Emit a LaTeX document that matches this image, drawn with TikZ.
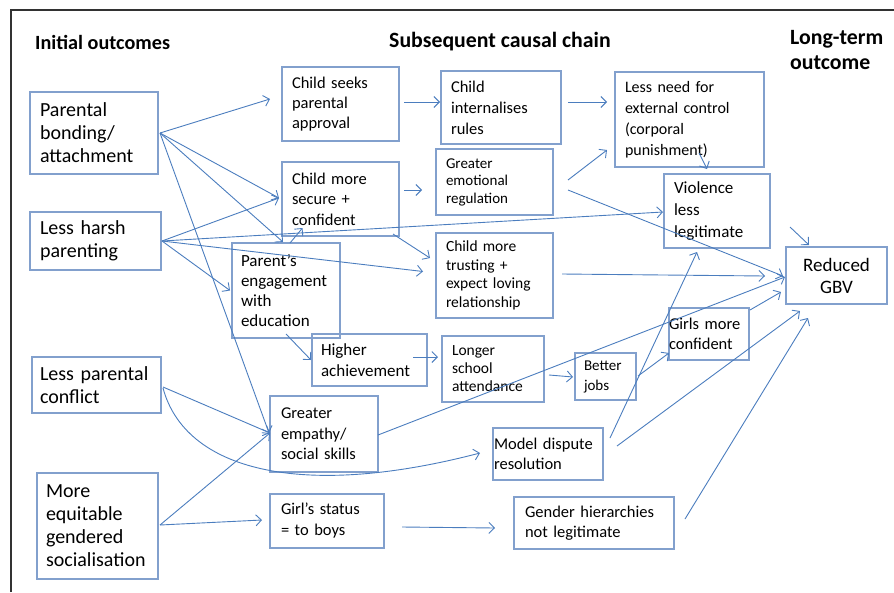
\documentclass[tikz,border=0pt]{standalone}
\usepackage{fontspec}
\setmainfont{Carlito}
\usetikzlibrary{arrows.meta,calc}
\definecolor{boxline}{RGB}{130,160,205}
\definecolor{arr}{RGB}{75,125,190}
\definecolor{framec}{RGB}{50,50,50}
\begin{document}
\begin{tikzpicture}[x=1pt,y=-1pt,
  box/.style={draw=boxline, line width=1.1pt, rectangle, anchor=north west,
    inner ysep=0pt, outer sep=0pt, align=left, text=black},
  con/.style={draw=arr, line width=0.9pt, -{Straight Barb[length=5.5pt,width=11pt]}},
  ttl/.style={font=\fontsize{20.2}{25}\selectfont\bfseries, inner sep=0pt, text=black, align=left},
  frm/.style={draw=framec, line width=1.2pt}
]
\useasboundingbox (0,0) rectangle (894,592);
\draw[frm] (11,592) -- (11,10) -- (894,10);

% titles
\node[ttl, anchor=west] (t1) at (35,42) {Initial outcomes};
\node[ttl, anchor=west, font=\fontsize{21.8}{25}\selectfont\bfseries] (t2) at (389,42) {Subsequent causal chain};
\node[ttl, anchor=west, font=\fontsize{21.8}{25}\selectfont\bfseries] (t3) at (790,50.5) {Long-term\\outcome};

% initial outcomes
\node[box, minimum width=128pt, minimum height=82pt, text width=108pt, inner xsep=10pt, font=\fontsize{20}{23}\selectfont] (pb) at (30,92) {Parental\\bonding/\\attachment};
\node[box, minimum width=131pt, minimum height=58pt, text width=111pt, inner xsep=10pt, font=\fontsize{20}{23}\selectfont] (lh) at (30,212) {Less harsh\\parenting};
\node[box, minimum width=129pt, minimum height=56pt, text width=113pt, inner xsep=8pt, font=\fontsize{20}{23}\selectfont] (lc) at (32,357) {Less parental\\conflict};
\node[box, minimum width=121pt, minimum height=106pt, text width=103pt, inner xsep=9pt, font=\fontsize{20}{23}\selectfont] (me) at (37,473) {More\\equitable\\gendered\\socialisation};

% second column
\node[box, minimum width=117pt, minimum height=74pt, text width=97pt, inner xsep=10pt, font=\fontsize{16.5}{20}\selectfont] (cs) at (282,67) {Child seeks\\parental\\approval};
\node[box, minimum width=117pt, minimum height=74pt, text width=97pt, inner xsep=10pt, font=\fontsize{16.5}{20.5}\selectfont] (cm) at (282,162) {Child more\\secure +\\confident};
\node[box, minimum width=108pt, minimum height=95pt, text width=90pt, inner xsep=9pt, font=\fontsize{17}{20}\selectfont] (pe) at (232,243) {Parent’s\\engagement\\with\\education};
\node[box, minimum width=115pt, minimum height=52pt, text width=97pt, inner xsep=9pt, font=\fontsize{17}{21}\selectfont] (ha) at (312,334) {Higher\\achievement};
\node[box, minimum width=108pt, minimum height=76pt, text width=86pt, inner xsep=11pt, font=\fontsize{16.5}{20.5}\selectfont] (ge) at (270,396) {Greater\\empathy/\\social skills};
\node[box, minimum width=114pt, minimum height=54pt, text width=92pt, inner xsep=11pt, font=\fontsize{16.5}{21}\selectfont] (gs) at (270,494) {Girl’s status\\= to boys};

% third column
\node[box, minimum width=120pt, minimum height=73pt, text width=100pt, inner xsep=10pt, font=\fontsize{16.5}{21}\selectfont] (ci) at (441,71) {Child\\internalises\\rules};
\node[box, minimum width=117pt, minimum height=66pt, text width=97pt, inner xsep=10pt, font=\fontsize{15}{17.5}\selectfont] (er) at (436,149) {Greater\\emotional\\regulation};
\node[box, minimum width=117pt, minimum height=85pt, text width=97pt, inner xsep=10pt, font=\fontsize{15.5}{18.5}\selectfont] (ct) at (436,233) {Child more\\trusting +\\expect loving\\relationship};
\node[box, minimum width=102pt, minimum height=66pt, text width=82pt, inner xsep=10pt, font=\fontsize{15.5}{18}\selectfont] (ls) at (442,336) {Longer\\school\\attendance};
\node[box, minimum width=110pt, minimum height=52pt, text width=108pt, inner xsep=1pt, font=\fontsize{16.5}{20}\selectfont] (md) at (493,428) {Model dispute\\resolution};
\node[box, minimum width=160pt, minimum height=52pt, text width=138pt, inner xsep=11pt, font=\fontsize{16.5}{20}\selectfont] (gh) at (514,497) {Gender hierarchies\\not legitimate};

% fourth column
\node[box, minimum width=149pt, minimum height=95pt, text width=129pt, inner xsep=10pt, font=\fontsize{16}{21}\selectfont] (ln) at (615,72) {Less need for\\external control\\(corporal\\punishment)};
\node[box, minimum width=106pt, minimum height=74pt, text width=86pt, inner xsep=10pt, font=\fontsize{17}{22}\selectfont] (vl) at (664,174) {Violence\\less\\legitimate};
\node[box, minimum width=61pt, minimum height=47pt, text width=43pt, inner xsep=9pt, font=\fontsize{15}{20}\selectfont] (bj) at (575,353) {Better\\jobs};
\node[box, minimum width=80pt, minimum height=52pt, text width=80pt, inner xsep=0pt, font=\fontsize{16.5}{20}\selectfont] (gc) at (669,308) {Girls more\\confident};
\node[box, minimum width=101pt, minimum height=57pt, text width=81pt, inner xsep=10pt, align=center, font=\fontsize{19}{22}\selectfont] (rg) at (786,247) {Reduced\\GBV};

% connectors
\draw[con] ($(pb.east)+(2,0)$) -- ($(cs.west)+(-12,-5)$);
\draw[con] ($(pb.east)+(2,0)$) -- ($(cm.west)+(-3,-1)$);
\draw[con] ($(pb.east)+(2,0)$) -- ($(pe.north)+(-3,-1)$);
\draw[con] ($(pb.east)+(2,0)$) -- ($(ge.west)+(-1,-1)$);
\draw[con] ($(lh.east)+(1,0)$) -- ($(cm.west)+(-3,-1)$);
\draw[con] ($(lh.east)+(1,0)$) -- ($(vl.west)+(-1,1)$);
\draw[con] ($(lh.east)+(1,0)$) -- ($(pe.west)+(-2,0)$);
\draw[con] ($(lh.east)+(1,0)$) -- ($(ct.west)+(-13,-4)$);
\draw[con] ($(cm.south east)+(-6,-2)$) -- ($(ct.north west)+(-6,25)$);
\draw[con] ($(pe.north)+(4,0)$) -- ($(cm.south)+(-38,-8)$);
\draw[con] ($(cs.east)+(5,-2)$) -- ($(ci.west)+(-1,-5.5)$);
\draw[con] ($(cm.east)+(5,-9)$) -- ($(er.west)+(-14,8)$);
\draw[con] ($(ci.east)+(7,-5.5)$) -- ($(ln.west)+(-8,-17.5)$);
\draw[con] ($(er.east)+(15,-2)$) -- ($(ln.west)+(-8,30.5)$);
\draw[con] ($(er.east)+(15,8)$) -- ($(rg.west)+(-3,0.5)$);
\draw[con] ($(ln.south)+(9.5,-14)$) -- ($(vl.north)+(-10,-5)$);
\draw[con] ($(vl.east)+(20,16)$) -- ($(rg.north)+(-27.5,-2)$);
\draw[con] ($(ct.east)+(9,-1.5)$) -- ($(rg.west)+(-21,0.5)$);
\draw[con] ($(ha.east)+(-14,-3)$) -- ($(ls.west)+(-4,-12)$);
\draw[con] ($(ls.east)+(5,6)$) -- ($(bj.west)+(-2,0.5)$);
\draw[con] ($(pe.south)+(0,-4)$) -- ($(ha.west)+(-1,0)$);
\draw[con] ($(bj.east)+(2,-0.5)$) -- ($(gc.west)+(0,19)$);
\draw[con] ($(gc.east)+(1,-24)$) -- ($(rg.west)+(-5,16.5)$);
\draw[con] ($(ge.east)+(0,1)$) -- ($(rg.west)+(-1,1.5)$);
\draw[con] ($(md.east)+(7,-16)$) -- ($(vl.south)+(-20,4)$);
\draw[con] ($(md.east)+(14,-8)$) -- ($(rg.south)+(-36.5,7)$);
\draw[con] ($(gh.east)+(11,-4)$) -- ($(rg.south)+(-28.5,14)$);
\draw[con] ($(lc.east)+(2,2)$) -- ($(ge.west)+(0,-1)$);
\draw[con] ($(lc.east)+(2,3)$) .. controls (185,470) and (300,500) .. ($(md.west)+(-13,-1)$);
\draw[con] ($(me.east)+(2,-1)$) -- ($(ge.west)+(0,-1)$);
\draw[con] ($(me.east)+(2,-1)$) -- ($(gs.west)+(-8,-1)$);
\draw[con] ($(gs.east)+(18,6)$) -- ($(gh.west)+(-19,5)$);
\end{tikzpicture}
\end{document}
